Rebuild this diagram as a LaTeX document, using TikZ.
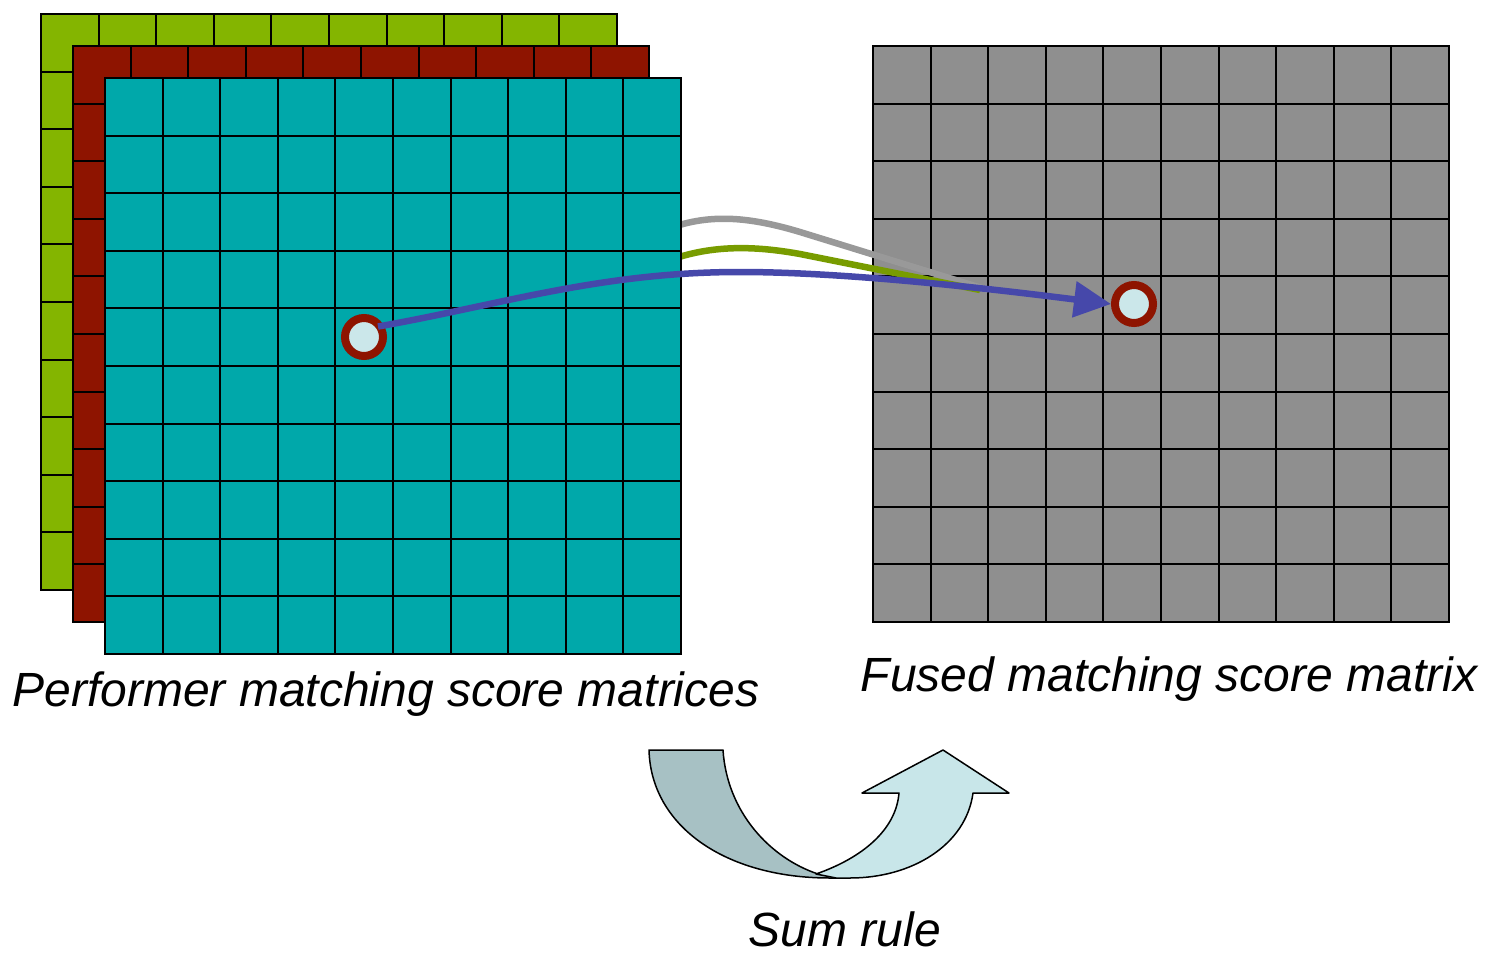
\documentclass[tikz,border=0pt]{standalone}
\usepackage{fontspec}
\setmainfont{Liberation Sans}
\usetikzlibrary{arrows.meta}
\definecolor{mgreen}{RGB}{132,181,0}
\definecolor{mred}{RGB}{142,20,0}
\definecolor{mteal}{RGB}{0,168,170}
\definecolor{mgray}{RGB}{143,143,143}
\definecolor{lblue}{RGB}{70,72,170}
\definecolor{lgreen}{RGB}{120,156,0}
\definecolor{lgray}{RGB}{153,153,153}
\definecolor{ringred}{RGB}{142,20,0}
\definecolor{dotfill}{RGB}{203,231,234}
\definecolor{udark}{RGB}{167,193,196}
\definecolor{ulight}{RGB}{200,230,233}
\newcommand\scoregrid[3]{%
  \fill[#3] (#1,#2) rectangle ++(576,576);
  \foreach \k in {0,...,10}{%
    \draw[gridline] (#1+\k*57.6,#2) -- ++(0,576);
    \draw[gridline] (#1,#2+\k*57.6) -- ++(576,0);
  }%
}
\begin{document}
\begin{tikzpicture}[x=1pt,y=-1pt,
  gridline/.style={black,line width=2pt,line cap=rect},
  dot/.style={circle,draw=ringred,fill=dotfill,line width=8pt,minimum size=38pt,inner sep=0pt},
  link/.style={line width=6.5pt},
  lbl/.style={font=\fontsize{48}{52}\selectfont\itshape,anchor=base,inner sep=0pt},
  uturn/.style={draw=black,line width=1.5pt,line join=round}]
\useasboundingbox (0,0) rectangle (1486,953);
% back matrices
\scoregrid{41}{14}{mgreen}
\scoregrid{73}{46}{mred}
% fused matrix
\scoregrid{873}{46}{mgray}
% hidden-origin links from back matrices
\coordinate (gs) at (655,234);
\coordinate (ge) at (988,290);
\coordinate (ns) at (655,266);
\coordinate (ne) at (980,290);
\draw[link,lgray] (gs) .. controls (700,214) and (740,214) .. (800,232) -- (ge);
\draw[link,lgreen] (ns) .. controls (700,246) and (745,244) .. (800,254) -- (ne);
% front matrix
\scoregrid{105}{78}{mteal}
% selected cells
\node[dot] (c1) at (364,337) {};
\node[dot] (c2) at (1134,304) {};
% main link
\draw[link,lblue,shorten <=-6pt,-{Triangle[length=37pt,width=35pt]}]
  (c1.30) .. controls (500,305) and (600,272) .. (740,272)
  .. controls (850,272) and (1000,290) .. (c2.west);
% labels
\node[lbl] (t1) at (386,706) {Performer matching score matrices};
\node[lbl] (t2) at (1169,691) {Fused matching score matrix};
\node[lbl] (t3) at (845,946) {Sum rule};
% U-turn arrow
\draw[uturn,fill=udark] (649,750) -- (723,750)
  .. controls (727,812) and (770,858) .. (818,874) -- (850,878) -- (830,878)
  .. controls (725,878) and (651,826) .. (649,750) -- cycle;
\draw[uturn,fill=ulight] (816,874)
  .. controls (862,858) and (896,830) .. (899,793) -- (862,793) -- (943,750)
  -- (1009,793) -- (973,793)
  .. controls (966,845) and (912,878) .. (850,878) -- (836,878) -- cycle;
\end{tikzpicture}
\end{document}
